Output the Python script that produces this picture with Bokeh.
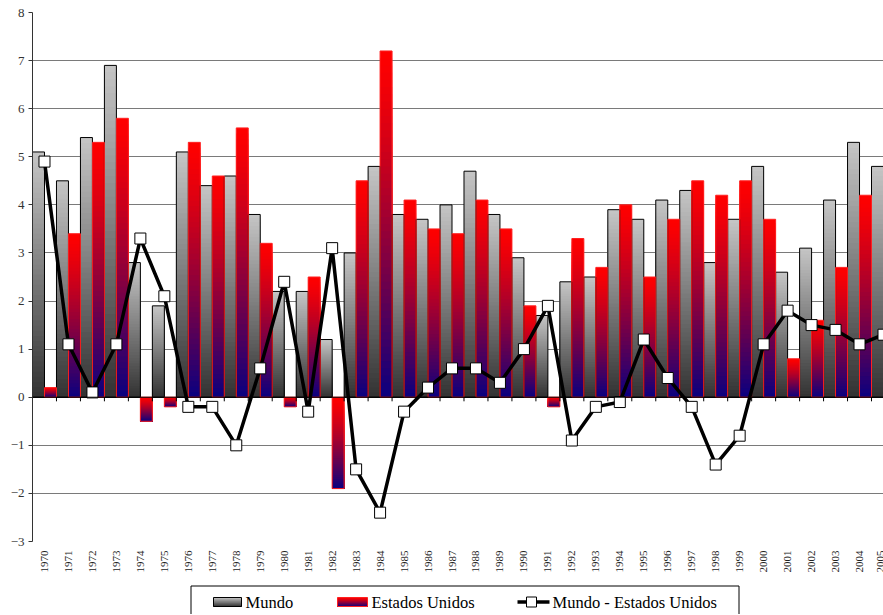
import numpy as np
from bokeh.plotting import figure
from bokeh.layouts import column
from bokeh.models import Range1d, FixedTicker, Span, ColumnDataSource
from bokeh.core.properties import value
from bokeh.embed import file_html
from bokeh.resources import INLINE

# ---- data ----
years = list(range(1970, 2006))
mundo = [5.1, 4.5, 5.4, 6.9, 2.8, 1.9, 5.1, 4.4, 4.6, 3.8,
         2.2, 2.2, 1.2, 3.0, 4.8, 3.8, 3.7, 4.0, 4.7, 3.8,
         2.9, 1.7, 2.4, 2.5, 3.9, 3.7, 4.1, 4.3, 2.8, 3.7,
         4.8, 2.6, 3.1, 4.1, 5.3, 4.8]
eeuu = [0.2, 3.4, 5.3, 5.8, -0.5, -0.2, 5.3, 4.6, 5.6, 3.2,
        -0.2, 2.5, -1.9, 4.5, 7.2, 4.1, 3.5, 3.4, 4.1, 3.5,
        1.9, -0.2, 3.3, 2.7, 4.0, 2.5, 3.7, 4.5, 4.2, 4.5,
        3.7, 0.8, 1.6, 2.7, 4.2, 3.5]
diferencia = [4.9, 1.1, 0.1, 1.1, 3.3, 2.1, -0.2, -0.2, -1.0, 0.6,
              2.4, -0.3, 3.1, -1.5, -2.4, -0.3, 0.2, 0.6, 0.6, 0.3,
              1.0, 1.9, -0.9, -0.2, -0.1, 1.2, 0.4, -0.2, -1.4, -0.8,
              1.1, 1.8, 1.5, 1.4, 1.1, 1.3]
y_ticks = list(range(-3, 9))
legend_labels = ["Mundo", "Estados Unidos", "Mundo - Estados Unidos"]

SERIF = "Liberation Serif"
GRAY_TOP, GRAY_BOT = (198, 198, 198), (50, 50, 50)
RED_TOP, BLUE_BOT = (255, 0, 0), (10, 0, 128)
US_GAMMA = 1.3


def lerp(c0, c1, s):
    return "#%02x%02x%02x" % tuple(int(round(a + (b - a) * s)) for a, b in zip(c0, c1))


def gradient_source(lefts, rights, tops, bots, c_top, c_bot, gamma=1.0, n=48):
    """Slices of each rectangle, each slice running from its own top down to the
    rectangle's bottom, so later (lower) slices overlay earlier ones without seams."""
    L, R, T, B, C = [], [], [], [], []
    for l, r, top, bot in zip(lefts, rights, tops, bots):
        h = top - bot
        for k in range(n):
            s = ((k + 0.5) / n) ** gamma
            L.append(l); R.append(r)
            T.append(top - h * k / n); B.append(bot)
            C.append(lerp(c_top, c_bot, s))
    return ColumnDataSource(dict(left=L, right=R, top=T, bottom=B, color=C))


x = np.array(years, dtype=float)
m_left, m_right = x - 0.5, x
u_left, u_right = x, x + 0.5
m_top, m_bot = np.maximum(mundo, 0), np.minimum(mundo, 0)
u_top, u_bot = np.maximum(eeuu, 0), np.minimum(eeuu, 0)

p = figure(frame_width=851, frame_height=529,
           x_range=Range1d(1969.5, 2005.0), y_range=Range1d(-3, 8),
           output_backend="svg", toolbar_location=None,
           min_border_left=32, min_border_right=0, min_border_top=12, min_border_bottom=43)
p.outline_line_color = None
p.background_fill_color = "white"

# gradient bars
src_m = gradient_source(m_left, m_right, m_top, m_bot, GRAY_TOP, GRAY_BOT, 1.0)
src_u = gradient_source(u_left, u_right, u_top, u_bot, RED_TOP, BLUE_BOT, US_GAMMA)
p.quad(left="left", right="right", top="top", bottom="bottom", fill_color="color",
       line_color=None, source=src_m)
p.quad(left="left", right="right", top="top", bottom="bottom", fill_color="color",
       line_color=None, source=src_u)

# outlines
p.quad(left=m_left, right=m_right, top=m_top, bottom=m_bot,
       fill_color=None, line_color="black", line_width=1)
p.quad(left=u_left, right=u_right, top=u_top, bottom=u_bot,
       fill_color=None, line_color="#ff2020", line_width=1)

# zero axis line with category tick marks
p.add_layout(Span(location=0, dimension="width", line_color="black", line_width=1))
bounds = list(x - 0.5) + [x[-1] + 0.5]
p.segment(x0=bounds, y0=[0] * len(bounds), x1=bounds, y1=[-0.085] * len(bounds),
          line_color="black", line_width=1)

# difference line
p.line(x, diferencia, line_color="black", line_width=3.5)
p.scatter(x, diferencia, marker="square", size=11, fill_color="white",
          line_color="black", line_width=1)

# axes
p.yaxis.ticker = FixedTicker(ticks=y_ticks)
p.yaxis.major_tick_out = 4
p.yaxis.major_tick_in = 0
p.yaxis.minor_tick_line_color = None
p.yaxis.axis_line_color = "#333333"
p.yaxis.major_tick_line_color = "#333333"
p.yaxis.major_label_text_font = SERIF
p.yaxis.major_label_text_font_size = "13px"
p.yaxis.major_label_text_color = "#333333"
p.yaxis.major_label_standoff = 4

p.xaxis.ticker = FixedTicker(ticks=years)
p.xaxis.axis_line_color = None
p.xaxis.major_tick_line_color = None
p.xaxis.major_tick_out = 0
p.xaxis.major_tick_in = 0
p.xaxis.minor_tick_line_color = None
p.xaxis.major_label_orientation = np.pi / 2
p.xaxis.major_label_text_font = SERIF
p.xaxis.major_label_text_font_size = "11px"
p.xaxis.major_label_text_color = "#222222"
p.xaxis.major_label_standoff = 9

p.xgrid.visible = False
p.ygrid.grid_line_color = "#7a7a7a"
p.ygrid.grid_line_width = 1

# ---- legend strip (page-pixel coordinates, y down; frame aligned with the chart's) ----
lg = figure(frame_width=851, frame_height=30, x_range=Range1d(32, 883), y_range=Range1d(30, 0),
            output_backend="svg", toolbar_location=None,
            x_axis_type=None, y_axis_type=None,
            min_border_left=32, min_border_right=0, min_border_top=0, min_border_bottom=0)
lg.outline_line_color = None
lg.xgrid.visible = False
lg.ygrid.visible = False

# frame of the legend (bottom edge falls off the page, as in the reference)
lg.quad(left=[190.5], right=[738.5], top=[1.5], bottom=[40], fill_color="white",
        line_color="black", line_width=1)

sw_top, sw_bot = 13.0, 22.0
sw_m = gradient_source([213], [241], [sw_top], [sw_bot], GRAY_TOP, GRAY_BOT, 1.0, n=10)
sw_u = gradient_source([337], [367], [sw_top], [sw_bot], RED_TOP, BLUE_BOT, US_GAMMA, n=10)
# y axis is inverted here: "top" is the smaller value, flip slices so they run top->bottom
for src in (sw_m, sw_u):
    d = dict(src.data)
    d["top"], d["bottom"] = d["bottom"], d["top"]
    src.data = d
lg.quad(left="left", right="right", top="top", bottom="bottom", fill_color="color",
        line_color=None, source=sw_m)
lg.quad(left="left", right="right", top="top", bottom="bottom", fill_color="color",
        line_color=None, source=sw_u)
lg.quad(left=[213], right=[241], top=[sw_top], bottom=[sw_bot], fill_color=None,
        line_color="black", line_width=1)
lg.quad(left=[337], right=[367], top=[sw_top], bottom=[sw_bot], fill_color=None,
        line_color="#ff2020", line_width=1)
lg.line([517, 549], [17.5, 17.5], line_color="black", line_width=3.5)
lg.scatter([531], [17.5], marker="square", size=10, fill_color="white",
           line_color="black", line_width=1)

lg.text(x=[245, 371, 552], y=[18, 18, 18], text=legend_labels,
        text_font=value(SERIF), text_font_size="16.5px", text_color="black",
        text_baseline="middle", text_align="left")

layout = column(p, lg, spacing=0)
open("out.html", "w").write(file_html(layout, INLINE))
